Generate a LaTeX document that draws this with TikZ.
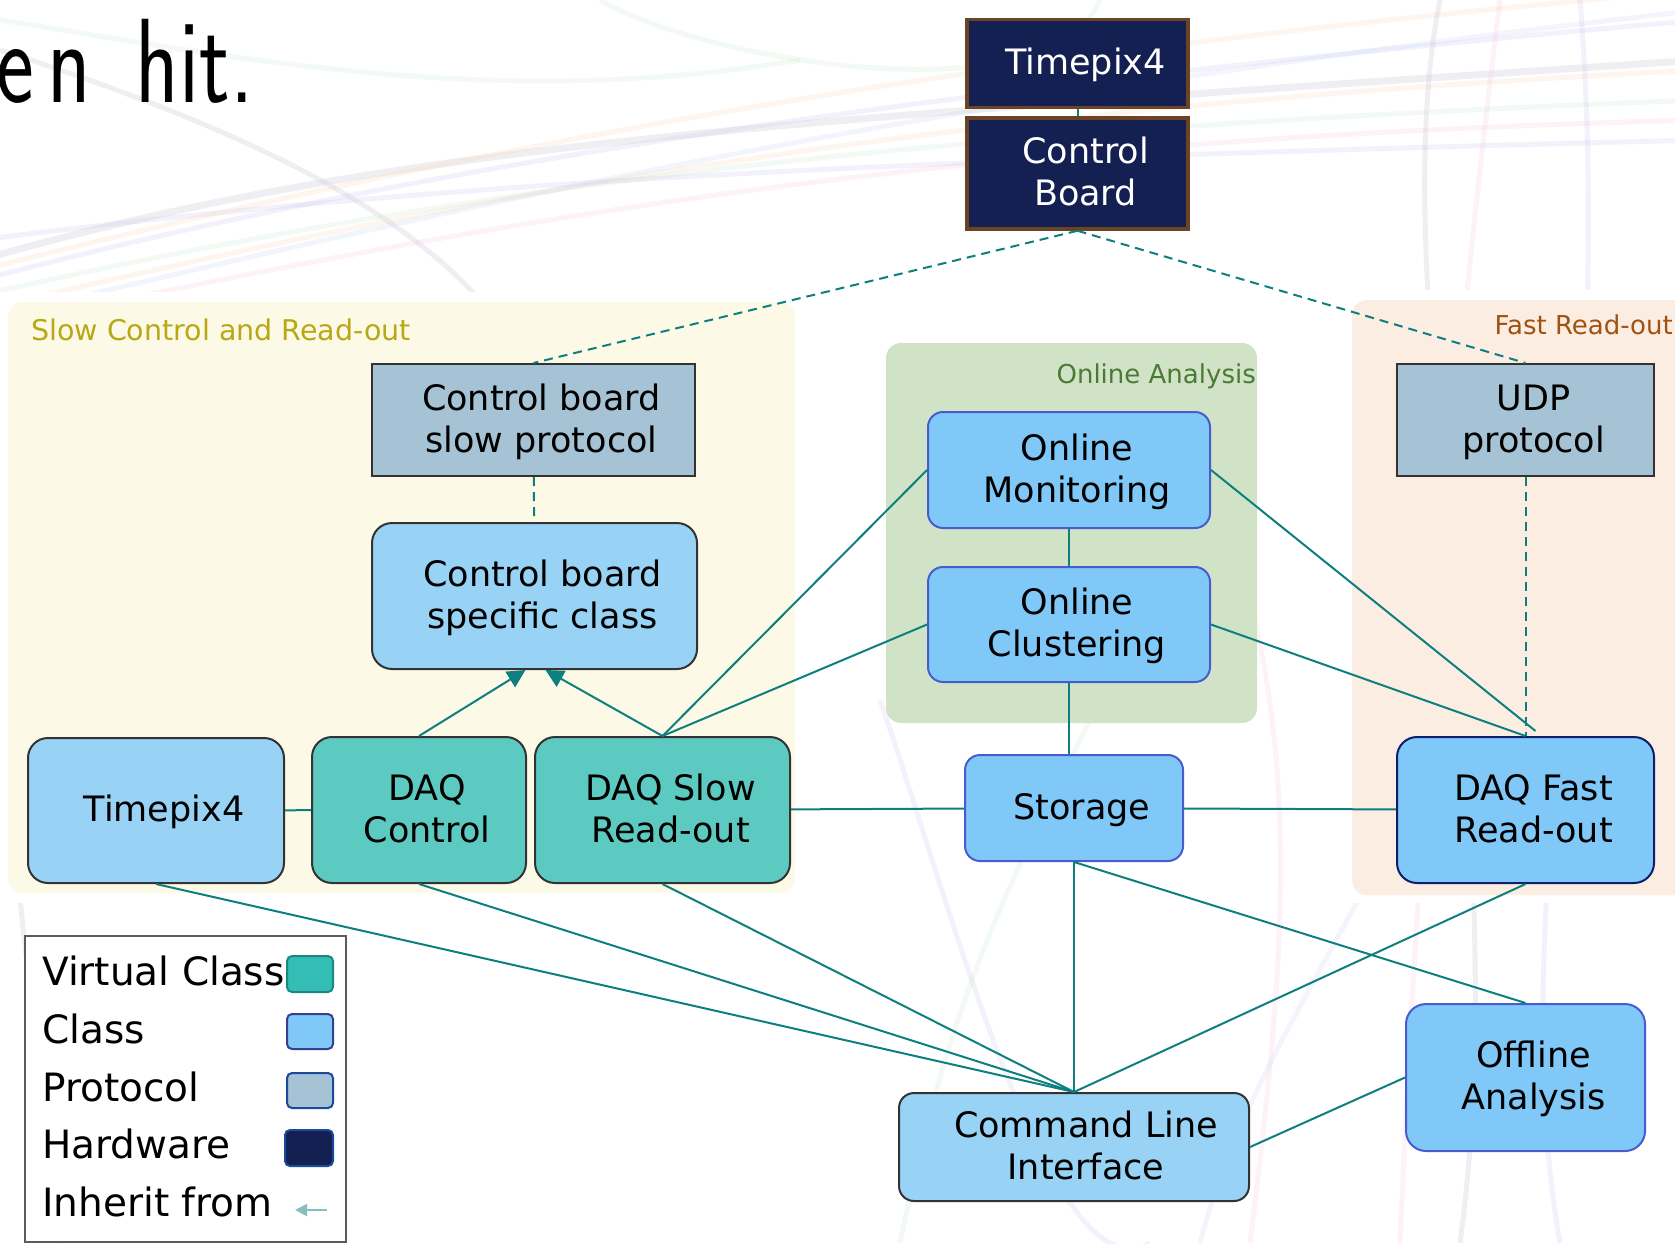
\documentclass[tikz,border=0pt]{standalone}
\usepackage{fontspec}
\usepackage{graphicx}
\setmainfont{DejaVu Sans}
\usetikzlibrary{arrows.meta,calc}
\definecolor{tealc}{HTML}{0E7F7F}
\definecolor{hwnavy}{HTML}{141F52}
\definecolor{hwbrown}{HTML}{6B4423}
\definecolor{clsA}{HTML}{98D3F5}
\definecolor{clsB}{HTML}{80C8F8}
\definecolor{clsBd}{HTML}{4A5BD0}
\definecolor{virtc}{HTML}{5CCAC1}
\definecolor{protoc}{HTML}{A5C3D4}
\definecolor{dkb}{HTML}{333333}
\definecolor{navyb}{HTML}{0D1F6B}
\definecolor{slowbg}{HTML}{FDF9E7}
\definecolor{fastbg}{HTML}{FCEDE3}
\definecolor{onbg}{HTML}{CFE2C3}
\definecolor{slowtxt}{HTML}{B8A814}
\definecolor{fasttxt}{HTML}{A0520F}
\definecolor{ontxt}{HTML}{4A7A35}
\definecolor{swv}{HTML}{33BDB5}
\definecolor{swvd}{HTML}{1A8A80}
\definecolor{swpd}{HTML}{1A4A9A}
\definecolor{c1}{HTML}{B8B8C8}
\definecolor{c2}{HTML}{C8C0EC}
\definecolor{c3}{HTML}{F5D2B0}
\definecolor{c4}{HTML}{C8EAC8}
\definecolor{c5}{HTML}{F2C4DE}
\definecolor{c6}{HTML}{C4D6F2}
\newcommand{\bxt}[1]{\raisebox{-3pt}[\height][\depth]{\hspace*{16pt}\begin{tabular}{@{}c@{}}#1\end{tabular}}}
\tikzset{
  bfont/.style={font=\fontsize{35}{42}\selectfont},
  hwbox/.style={bfont, draw=hwbrown, line width=3.5pt, fill=hwnavy, text=white, inner sep=0pt},
  clsa/.style={bfont, draw=dkb, line width=2pt, fill=clsA, rounded corners=20pt, inner sep=0pt},
  clsb/.style={bfont, draw=clsBd, line width=2pt, fill=clsB, rounded corners=15pt, inner sep=0pt},
  virt/.style={bfont, draw=dkb, line width=2pt, fill=virtc, rounded corners=20pt, inner sep=0pt},
  proto/.style={bfont, draw=dkb, line width=2pt, fill=protoc, inner sep=0pt},
  conn/.style={draw=tealc, line width=2pt},
  dconn/.style={draw=tealc, line width=2pt, dash pattern=on 9pt off 6pt},
  inh/.style={conn, -{Triangle[length=18pt,width=18pt]}},
  legtxt/.style={font=\fontsize{39}{46}\selectfont, anchor=base west, inner sep=0pt},
  legsw/.style={line width=2pt, rounded corners=5pt, inner sep=0pt},
  bgc/.style={line width=5pt, opacity=0.22},
}
\begin{document}
\begin{tikzpicture}[x=1pt,y=-1pt]
\useasboundingbox (0,0) rectangle (1675,1243);
\clip (0,0) rectangle (1675,1243);
% background decorations
\draw[bgc,c1,line width=7pt] (-20,260) .. controls (400,140) and (800,120) .. (1700,60);
\draw[bgc,c2] (-20,280) .. controls (400,170) and (900,90) .. (1700,20);
\draw[bgc,c3] (-20,310) .. controls (450,200) and (900,110) .. (1700,70);
\draw[bgc,c4] (-20,295) .. controls (450,190) and (900,130) .. (1700,100);
\draw[bgc,c6] (-20,320) .. controls (450,210) and (900,100) .. (1700,10);
\draw[bgc,c5] (-20,330) .. controls (450,230) and (900,140) .. (1700,120);
\draw[bgc,c2] (-20,240) .. controls (450,180) and (900,160) .. (1700,140);
\draw[bgc,c3] (-20,270) .. controls (500,140) and (1000,50) .. (1700,-10);
\draw[bgc,c4] (0,20) .. controls (250,60) and (500,110) .. (800,60);
\draw[bgc,c1] (0,50) .. controls (250,130) and (400,210) .. (480,300);
\draw[bgc,c4] (1100,0) .. controls (1050,120) and (700,60) .. (600,0);
\draw[bgc,c1] (1440,0) .. controls (1380,300) and (1520,800) .. (1460,1243);
\draw[bgc,c2] (1580,0) .. controls (1620,500) and (1500,900) .. (1560,1243);
\draw[bgc,c5] (1500,0) .. controls (1450,400) and (1420,800) .. (1400,1243);
\draw[bgc,c2] (880,700) .. controls (950,900) and (1050,1300) .. (1150,1243);
\draw[bgc,c4] (900,1243) .. controls (950,1000) and (1000,900) .. (1100,700);
\draw[bgc,c5] (1250,1243) .. controls (1280,1000) and (1300,800) .. (1250,600);
\draw[bgc,c6] (1200,1243) .. controls (1250,1050) and (1380,900) .. (1450,700);
\draw[bgc,c1] (0,700) .. controls (20,900) and (40,1100) .. (60,1243);
% title fragment
\node[anchor=base east, inner sep=0pt] (title) at (254,102) {\scalebox{0.75}[1]{\sffamily\fontsize{120}{130}\selectfont e\hspace{0.15em}n\hspace{0.5em}hit.}};
% groups
\fill[white] (0,292) rectangle (805,903);
\fill[white] (1343,290) rectangle (1675,903);
\fill[slowbg, rounded corners=15pt] (8,302) rectangle (795,893);
\fill[fastbg, rounded corners=15pt] (1352,300) rectangle (1700,895);
\fill[onbg, opacity=0.95, rounded corners=15pt] (886,343) rectangle (1257,723);
\node[font=\fontsize{28.5}{34}\selectfont, text=slowtxt, anchor=base west, inner sep=0pt] (slowlbl) at (31,340) {Slow Control and Read-out};
\node[font=\fontsize{26}{31}\selectfont, text=fasttxt, anchor=base east, inner sep=0pt] (fastlbl) at (1673,334) {Fast Read-out};
\node[font=\fontsize{26}{31}\selectfont, text=ontxt, anchor=base east, inner sep=0pt] (onlbl) at (1256,383) {Online Analysis};
% nodes
\node[hwbox, minimum width=221pt, minimum height=88pt] (tphw) at (1077.5,63.5) {\bxt{Timepix4}};
\node[hwbox, minimum width=221pt, minimum height=111pt] (cb) at (1077.5,173.5) {\bxt{Control\\Board}};
\node[proto, minimum width=323pt, minimum height=112pt] (slowproto) at (533.5,420) {\bxt{Control board\\slow protocol}};
\node[clsa, minimum width=325pt, minimum height=146pt] (cbspec) at (534.5,596) {\bxt{Control board\\specific class}};
\node[clsa, minimum width=256pt, minimum height=145pt] (tp4) at (156,810.5) {\bxt{Timepix4}};
\node[virt, minimum width=214pt, minimum height=146pt] (daqctrl) at (419,810) {\bxt{DAQ\\Control}};
\node[virt, minimum width=255pt, minimum height=146pt] (daqslow) at (662.5,810) {\bxt{DAQ Slow\\Read-out}};
\node[clsb, minimum width=282pt, minimum height=116pt] (mon) at (1069,470) {\bxt{Online\\Monitoring}};
\node[clsb, minimum width=282pt, minimum height=115pt] (clu) at (1069,624.5) {\bxt{Online\\Clustering}};
\node[clsb, minimum width=218pt, minimum height=106pt] (storage) at (1074,808) {\bxt{Storage}};
\node[proto, minimum width=257pt, minimum height=112pt] (udp) at (1525.5,420) {\bxt{UDP\\protocol}};
\node[clsb, draw=navyb, rounded corners=20pt, minimum width=257pt, minimum height=146pt] (daqfast) at (1525.5,810) {\bxt{DAQ Fast\\Read-out}};
\node[clsa, rounded corners=15pt, minimum width=350pt, minimum height=108pt] (cli) at (1074,1147) {\hspace*{8pt}\bxt{Command Line\\Interface}};
\node[clsb, rounded corners=20pt, minimum width=239pt, minimum height=147pt] (offline) at (1525.5,1077.5) {\bxt{Offline\\Analysis}};
% connectors
\draw[conn] (tphw) -- (cb);
\draw[dconn] (cb.south) -- (slowproto.north);
\draw[dconn] (cb.south) -- (udp.north);
\draw[dconn] (slowproto) -- (cbspec);
\draw[inh] (daqctrl.north) -- ([xshift=-9pt]cbspec.south);
\draw[inh] (daqslow.north) -- ([xshift=11pt]cbspec.south);
\draw[conn] (daqslow.north) -- (mon.west);
\draw[conn] (daqslow.north) -- (clu.west);
\draw[conn] (tp4) -- (daqctrl);
\draw[conn] (daqslow) -- (storage);
\draw[conn] (mon) -- (clu);
\draw[conn] (clu.south) -- (clu.south |- storage.north);
\draw[conn] (mon.east) -- ([xshift=10pt,yshift=5pt]daqfast.north);
\draw[conn] (clu.east) -- (daqfast.north);
\draw[dconn] (udp) -- (daqfast);
\draw[conn] (storage) -- (daqfast);
\draw[conn] (storage.south) -- (cli.north);
\draw[conn] (storage.south) -- (offline.north);
\draw[conn] (daqfast.south) -- (cli.north);
\draw[conn] (tp4.south) -- (cli.north);
\draw[conn] (daqctrl.south) -- (cli.north);
\draw[conn] (daqslow.south) -- (cli.north);
\draw[conn] (cli.east) -- (offline.west);
% legend
\node[draw=dkb!80, line width=2.5pt, fill=white, minimum width=321pt, minimum height=306pt, inner sep=0pt] (legend) at (185.5,1089) {};
\node[legtxt] (lv) at (42,985) {Virtual Class};
\node[legtxt] (lc) at (42,1043) {Class};
\node[legtxt] (lp) at (42,1101) {Protocol};
\node[legtxt] (lh) at (42,1158) {Hardware};
\node[legtxt] (li) at (42,1216) {Inherit from};
\node[legsw, fill=swv, draw=swvd, minimum width=46pt, minimum height=36pt] (sv) at (310,974) {};
\node[legsw, fill=clsB, draw=clsBd!70!black, minimum width=46pt, minimum height=35pt] (sc) at (310,1031.5) {};
\node[legsw, fill=protoc, draw=swpd, minimum width=46pt, minimum height=35pt] (sp) at (310,1090.5) {};
\node[legsw, fill=hwnavy, draw=swpd, minimum width=48pt, minimum height=36pt] (sh) at (309,1148) {};
\coordinate (ia) at (327,1210);
\coordinate (ib) at (295,1210);
\draw[draw=tealc!50, line width=2pt, -{Triangle[length=12pt,width=12pt]}] (ia) -- (ib);
\end{tikzpicture}
\end{document}
